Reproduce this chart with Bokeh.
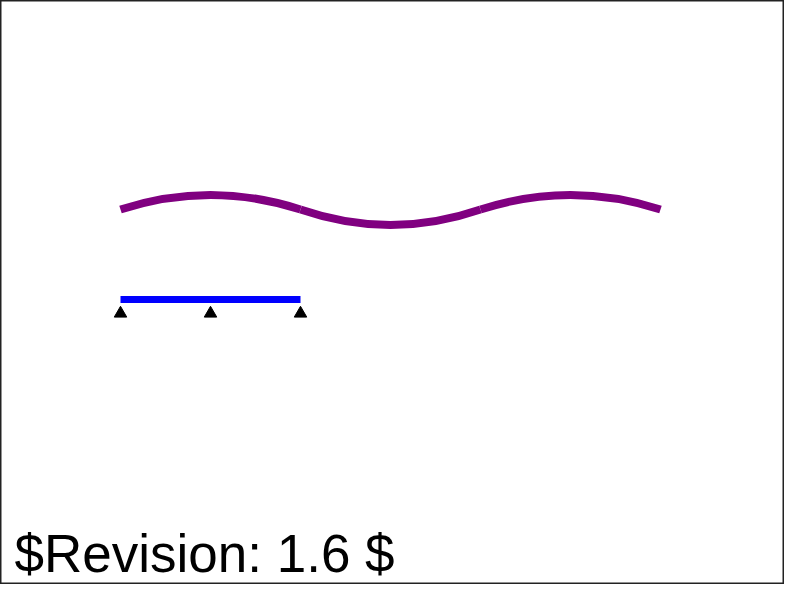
from bokeh.plotting import figure
from bokeh.models import Range1d
from bokeh.core.properties import value
from bokeh.embed import file_html
from bokeh.resources import INLINE

# wave: end points of the curve pieces and their control points (page pixels)
wave_x = [120, 300, 480, 660]
wave_y = [209, 209, 209, 209]
wave_cx = [210, 390, 570]
wave_cy = [180, 240, 180]

# blue polyline and its vertex markers
bar_x = [120, 210, 300]
bar_y = [299, 299, 299]
marker_y = [313, 313, 313]

label = ["$Revision: 1.6 $"]
label_x = [14]
label_y = [553]

p = figure(width=784, height=584, output_backend="svg", toolbar_location=None,
           x_range=Range1d(0, 784), y_range=Range1d(584, 0), min_border=0)
p.axis.visible = False
p.grid.visible = False
p.outline_line_color = "#222222"
p.outline_line_width = 2
p.background_fill_color = "white"
p.border_fill_color = "white"

# purple wave
p.quadratic(x0=wave_x[:-1], y0=wave_y[:-1], x1=wave_x[1:], y1=wave_y[1:],
            cx=wave_cx, cy=wave_cy, line_color="purple", line_width=8,
            line_cap="butt")

# blue line with markers
p.line(bar_x, bar_y, line_color="blue", line_width=7, line_cap="butt")
p.scatter(bar_x, marker_y, marker="triangle", size=12.5, color="black")

p.text(x=label_x, y=label_y, text=label, text_font=value("Liberation Sans"),
       text_font_size="53px", text_baseline="alphabetic", text_color="black")

open("out.html", "w").write(file_html(p, INLINE))
